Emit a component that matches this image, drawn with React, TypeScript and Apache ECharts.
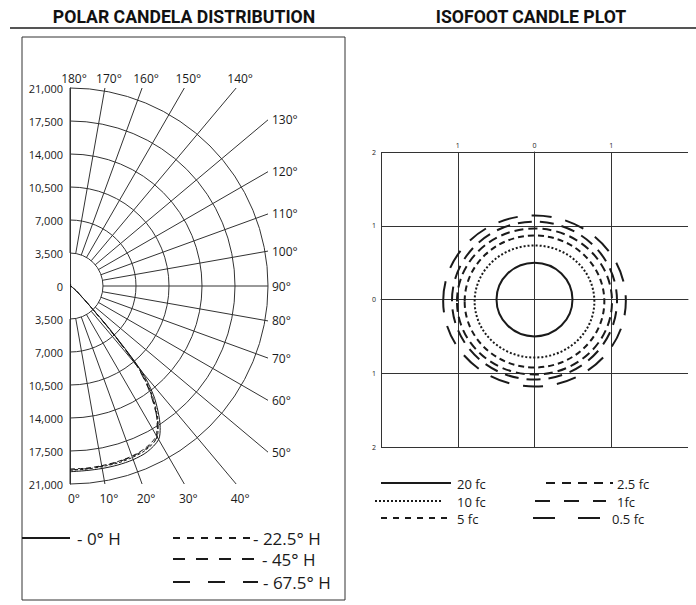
import React, { useEffect, useRef } from "react";
import * as echarts from "echarts";

// ---------- Polar candela distribution ----------
const POLAR_RADII = [3500, 7000, 10500, 14000, 17500, 21000];
const POLAR_TICKS = [-21000, -17500, -14000, -10500, -7000, -3500, 0, 3500, 7000, 10500, 14000, 17500, 21000];
const SPOKE_ANGLES = [0, 10, 20, 30, 40, 50, 60, 70, 80, 90, 100, 110, 120, 130, 140, 150, 160, 170, 180];
const CURVE_ANGLES = [0, 5, 10, 15, 20, 25, 30, 32.5, 35, 37.5, 40, 42.5, 45, 50, 55, 60, 70, 80, 90, 120, 150, 180];
const CANDELA_0H = [19700, 19650, 19650, 19650, 19600, 19400, 18800, 17800, 16300, 14500, 11800, 6500, 3000, 1200, 600, 300, 150, 80, 50, 80, 150, 150];
const CANDELA_22H = [19550, 19500, 19450, 19450, 19350, 19150, 18500, 17400, 15900, 14000, 11300, 6200, 2900, 1100, 550, 280, 140, 70, 40, 70, 130, 140];
const CANDELA_45H = [19400, 19400, 19350, 19300, 19200, 18950, 18300, 17200, 15700, 13800, 11100, 6100, 2800, 1100, 560, 290, 140, 70, 40, 60, 120, 130];
const CANDELA_67H = [19500, 19450, 19400, 19350, 19250, 19050, 18450, 17300, 15600, 13600, 10900, 6000, 2900, 1150, 600, 300, 150, 80, 50, 70, 140, 150];
const PLANE_NAMES = ["0° H", "22.5° H", "45° H", "67.5° H"];

// ---------- Isofoot candle plot ----------
const ISO_TICKS = [-2, -1, 0, 1, 2];
const ISO_LEVELS = ["20 fc", "10 fc", "5 fc", "2.5 fc", "1fc", "0.5 fc"];
const ISO_RX = [0.495, 0.78, 0.91, 1.01, 1.075, 1.19];
const ISO_RY = [0.5, 0.76, 0.895, 0.99, 1.07, 1.16];
const ISO_CY = [0, -0.027, -0.027, -0.027, -0.015, -0.02];

const PLANE_DASH: (number[] | null)[] = [null, [3, 2], [5, 3], [8, 5]];
const ISO_DASH: (number[] | null)[] = [null, [2, 2], [6, 4], [9, 5], [14, 8], [20, 14]];

const FONT = '"Open Sans", "Noto Sans", sans-serif';
const TITLE_FONT = 'Roboto, "Liberation Sans", sans-serif';
const INK = "#1a1a1a";
const GRID = "#333";

function fmtThousands(v: number) {
  return Math.abs(v).toLocaleString("en-US");
}

export default function App() {
  const ref = useRef<HTMLDivElement>(null);
  useEffect(() => {
    if (!ref.current) return;
    const chart = echarts.init(ref.current, null, { renderer: "svg" });
    const R0 = POLAR_RADII[0];
    const RMAX = POLAR_RADII[POLAR_RADII.length - 1];
    const curves = [CANDELA_0H, CANDELA_22H, CANDELA_45H, CANDELA_67H];

    const curveSeries = curves.map((vals, k) => ({
      type: "line",
      name: PLANE_NAMES[k],
      xAxisIndex: 0,
      yAxisIndex: 0,
      showSymbol: false,
      smooth: 0.3,
      z: 5,
      lineStyle: { color: INK, width: 1, type: PLANE_DASH[k] ? PLANE_DASH[k] : "solid" },
      data: CURVE_ANGLES.map((a, i) => {
        const rad = (a * Math.PI) / 180;
        return [vals[i] * Math.sin(rad), -vals[i] * Math.cos(rad)];
      }),
    }));

    const txt = (x: number, y: number, text: string, size: number, lh: number) => ({
      type: "text", x, y,
      style: { text, fontSize: size, lineHeight: lh, fontFamily: FONT, fill: INK, align: "left", verticalAlign: "middle", textAlign: "left", textVerticalAlign: "middle" },
    });

    const legendLeft: any[] = [
      { type: "line", shape: { x1: 22, y1: 538, x2: 70, y2: 538 }, style: { stroke: INK, lineWidth: 2 } },
      txt(77, 538, "- " + PLANE_NAMES[0], 17, 18),
      { type: "line", shape: { x1: 173, y1: 538, x2: 250, y2: 538 }, style: { stroke: INK, lineWidth: 2, lineDash: [7, 7] } },
      txt(253, 538, "- " + PLANE_NAMES[1], 17, 18),
      { type: "line", shape: { x1: 173, y1: 559, x2: 257, y2: 559 }, style: { stroke: INK, lineWidth: 2, lineDash: [12, 11] } },
      txt(262, 559, "- " + PLANE_NAMES[2], 17, 18),
      { type: "line", shape: { x1: 173, y1: 582, x2: 258, y2: 582 }, style: { stroke: INK, lineWidth: 2, lineDash: [17, 18] } },
      txt(263, 582, "- " + PLANE_NAMES[3], 17, 18),
    ];

    const isoLegendPos = [
      { x1: 381, x2: 451, y: 483, tx: 457 },
      { x1: 375, x2: 441, y: 501, tx: 457 },
      { x1: 381, x2: 447, y: 518, tx: 457 },
      { x1: 546, x2: 613, y: 483, tx: 617 },
      { x1: 535, x2: 606, y: 501, tx: 617 },
      { x1: 533, x2: 601, y: 518, tx: 612 },
    ];
    const isoLegendDash: (number[] | null)[] = [null, [2, 2], [6, 6], [9, 7], [15, 14], [22, 23]];
    const legendIso: any[] = [];
    isoLegendPos.forEach((p, i) => {
      legendIso.push({ type: "line", shape: { x1: p.x1, y1: p.y, x2: p.x2, y2: p.y }, style: { stroke: INK, lineWidth: 2, lineDash: isoLegendDash[i] || undefined } });
      legendIso.push(txt(p.tx, p.y + 1, ISO_LEVELS[i], 13, 14));
    });

    const titleStyle = (text: string) => ({
      text, fontSize: 18, fontWeight: "bold", fontFamily: TITLE_FONT, fill: "#111",
      align: "center", verticalAlign: "middle", textAlign: "center", textVerticalAlign: "middle",
    });

    const option: any = {
      animation: false,
      backgroundColor: "#fff",
      grid: [
        { left: 70, top: 88, width: 198, height: 396 },
        { left: 381, top: 152, width: 307, height: 295 },
      ],
      xAxis: [
        { gridIndex: 0, type: "value", min: 0, max: RMAX, show: false },
        {
          gridIndex: 1, type: "value", position: "top", min: ISO_TICKS[0], max: ISO_TICKS[ISO_TICKS.length - 1], interval: 1,
          axisLine: { show: true, lineStyle: { color: GRID, width: 1 } },
          axisTick: { show: false },
          axisLabel: { showMinLabel: false, showMaxLabel: false, fontSize: 7, fontFamily: FONT, color: INK, margin: 3, formatter: (v: number) => String(Math.abs(v)) },
          splitLine: { show: true, showMaxLine: false, lineStyle: { color: GRID, width: 1 } },
        },
      ],
      yAxis: [
        {
          gridIndex: 0, type: "value", min: POLAR_TICKS[0], max: POLAR_TICKS[POLAR_TICKS.length - 1], interval: 3500,
          axisLine: { show: true, lineStyle: { color: GRID, width: 1 } },
          axisTick: { show: false },
          splitLine: { show: false },
          axisLabel: { fontSize: 11, fontFamily: FONT, color: INK, margin: 7, formatter: (v: number) => fmtThousands(v) },
        },
        {
          gridIndex: 1, type: "value", min: ISO_TICKS[0], max: ISO_TICKS[ISO_TICKS.length - 1], interval: 1,
          axisLine: { show: true, lineStyle: { color: GRID, width: 1 } },
          axisTick: { show: false },
          axisLabel: { fontSize: 7, fontFamily: FONT, color: INK, margin: 5, formatter: (v: number) => String(Math.abs(v)) },
          splitLine: { show: true, lineStyle: { color: GRID, width: 1 } },
        },
      ],
      series: [
        {
          type: "custom",
          name: "rings",
          xAxisIndex: 0,
          yAxisIndex: 0,
          silent: true,
          data: POLAR_RADII.map((r) => [r, 0]),
          renderItem: (params: any, api: any) => {
            const r = api.value(0);
            const c = api.coord([0, 0]);
            const rr = api.size([r, 0])[0];
            return {
              type: "arc",
              shape: { cx: c[0], cy: c[1], r: rr, startAngle: -Math.PI / 2, endAngle: Math.PI / 2, clockwise: true },
              style: { stroke: GRID, fill: "none", lineWidth: 1 },
            };
          },
        },
        {
          type: "custom",
          name: "spokes",
          xAxisIndex: 0,
          yAxisIndex: 0,
          silent: true,
          data: SPOKE_ANGLES.map((a) => [a, 0]),
          renderItem: (params: any, api: any) => {
            const a = api.value(0);
            const rad = (a * Math.PI) / 180;
            const sx = Math.sin(rad);
            const sy = -Math.cos(rad);
            let t = Infinity;
            let side = "right";
            if (sx > 1e-6) t = RMAX / sx;
            if (Math.abs(sy) > 1e-6) {
              const ty = RMAX / Math.abs(sy);
              if (ty < t - 1e-6) {
                t = ty;
                side = sy > 0 ? "top" : "bottom";
              }
            }
            const p0 = api.coord([R0 * sx, R0 * sy]);
            const p1 = api.coord([t * sx, t * sy]);
            let lx = p1[0] + 4, ly = p1[1], align = "left";
            if (side === "top") { lx = p1[0] + 4; ly = p1[1] - 10; align = "center"; }
            if (side === "bottom") { lx = p1[0] + 4; ly = p1[1] + 14; align = "center"; }
            return {
              type: "group",
              children: [
                { type: "line", shape: { x1: p0[0], y1: p0[1], x2: p1[0], y2: p1[1] }, style: { stroke: GRID, lineWidth: 1 } },
                {
                  type: "text", x: lx, y: ly,
                  style: { text: a + "°", fontSize: 12, fontFamily: FONT, fill: INK, align, verticalAlign: "middle", textAlign: align, textVerticalAlign: "middle" },
                },
              ],
            };
          },
        },
        ...curveSeries,
        {
          type: "custom",
          name: "isofoot",
          xAxisIndex: 1,
          yAxisIndex: 1,
          silent: true,
          z: 5,
          data: ISO_LEVELS.map((_, i) => [0, ISO_CY[i], ISO_RX[i], ISO_RY[i]]),
          renderItem: (params: any, api: any) => {
            const i = params.dataIndex;
            const c = api.coord([api.value(0), api.value(1)]);
            const sz = api.size([api.value(2), api.value(3)]);
            const dash = ISO_DASH[i];
            return {
              type: "ellipse",
              shape: { cx: c[0], cy: c[1], rx: sz[0], ry: sz[1] },
              style: { stroke: INK, fill: "none", lineWidth: 2, lineDash: dash || undefined },
            };
          },
        },
      ],
      graphic: [
        { type: "line", shape: { x1: 10, y1: 28, x2: 696, y2: 28 }, style: { stroke: "#555", lineWidth: 2 } },
        { type: "text", x: 184, y: 16, scaleX: 0.98, style: titleStyle("POLAR CANDELA DISTRIBUTION") },
        { type: "text", x: 531, y: 16, scaleX: 0.98, style: titleStyle("ISOFOOT CANDLE PLOT") },
        { type: "rect", shape: { x: 22, y: 37, width: 323, height: 563 }, style: { stroke: GRID, fill: "none", lineWidth: 1 } },
        ...legendLeft,
        ...legendIso,
      ],
    };
    chart.setOption(option);
    return () => chart.dispose();
  }, []);
  return <div ref={ref} style={{ position: "absolute", left: 0, top: 0, width: 696, height: 605 }} />;
}
